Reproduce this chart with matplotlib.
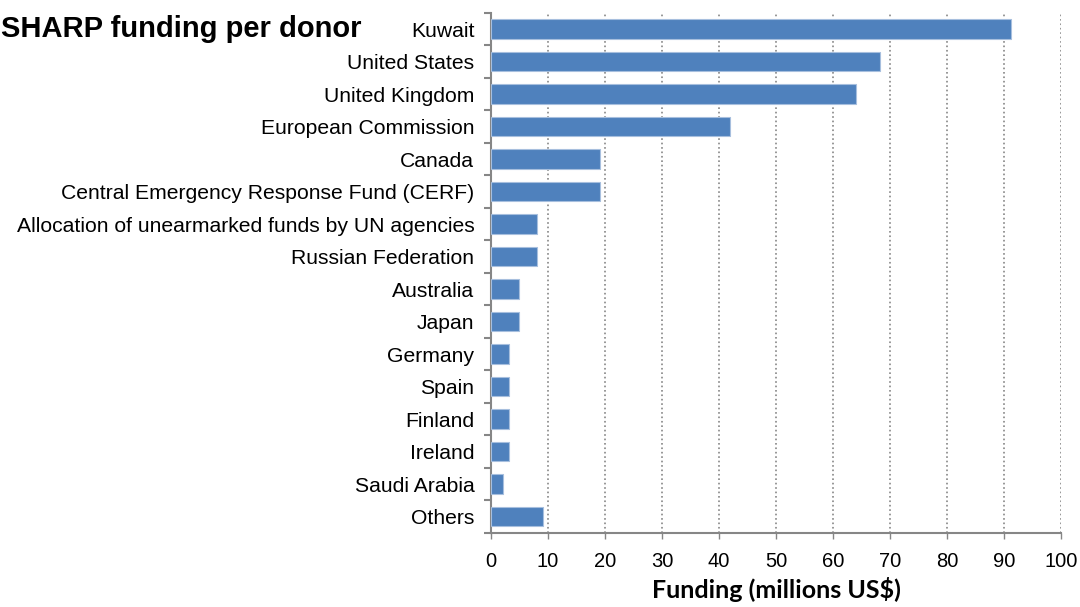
import matplotlib
matplotlib.use("Agg")
import matplotlib.pyplot as plt
import numpy as np
from matplotlib.ticker import MultipleLocator, FixedLocator

# Donors, top to bottom as in the chart
donors = [
    "Kuwait",
    "United States",
    "United Kingdom",
    "European Commission",
    "Canada",
    "Central Emergency Response Fund (CERF)",
    "Allocation of unearmarked funds by UN agencies",
    "Russian Federation",
    "Australia",
    "Japan",
    "Germany",
    "Spain",
    "Finland",
    "Ireland",
    "Saudi Arabia",
    "Others",
]
funding = [91.2, 68.2, 64.1, 41.9, 19.1, 19.1, 8.1, 8.1, 5.0, 5.0,
           3.2, 3.2, 3.2, 3.2, 2.1, 9.2]

plt.rcParams['font.family'] = ['Liberation Sans', 'DejaVu Sans']

fig = plt.figure(figsize=(10.8, 6.07), dpi=100)
ax = fig.add_axes([0.4546, 0.122, 0.528, 0.857])

n = len(donors)
ypos = np.arange(n)
ax.barh(ypos, funding, height=0.6, color='#4F81BD', edgecolor='#A7BFDE',
        linewidth=0.8, zorder=3)

ax.set_ylim(n - 0.5, -0.5)
ax.set_xlim(0, 100)

# y axis: labels centred, ticks at the category borders
ax.set_yticks(ypos)
ax.set_yticklabels(donors, fontsize=15.2)
ax.tick_params(axis='y', which='major', length=0, pad=12)
ax.yaxis.set_minor_locator(FixedLocator(np.arange(-0.5, n, 1.0)))
ax.tick_params(axis='y', which='minor', length=5, width=1.5, color='#868686')

ax.xaxis.set_major_locator(MultipleLocator(10))
ax.tick_params(axis='x', length=4, width=1, color='#868686', labelsize=14.5, pad=10)

ax.grid(axis='x', linestyle=':', color='#868686', linewidth=1.2, zorder=0)
for s in ['top', 'right']:
    ax.spines[s].set_visible(False)
for s in ['left', 'bottom']:
    ax.spines[s].set_color('#868686')
    ax.spines[s].set_linewidth(1.5)

ax.set_xlabel('Funding (millions US$)', fontsize=18, fontweight='bold',
              family=['Lato', 'DejaVu Sans'], labelpad=4)

fig.text(0.335, 0.952, 'SHARP funding per donor', fontsize=21,
         fontweight='bold', ha='right', va='center')

fig.savefig('out.png', dpi=100)
